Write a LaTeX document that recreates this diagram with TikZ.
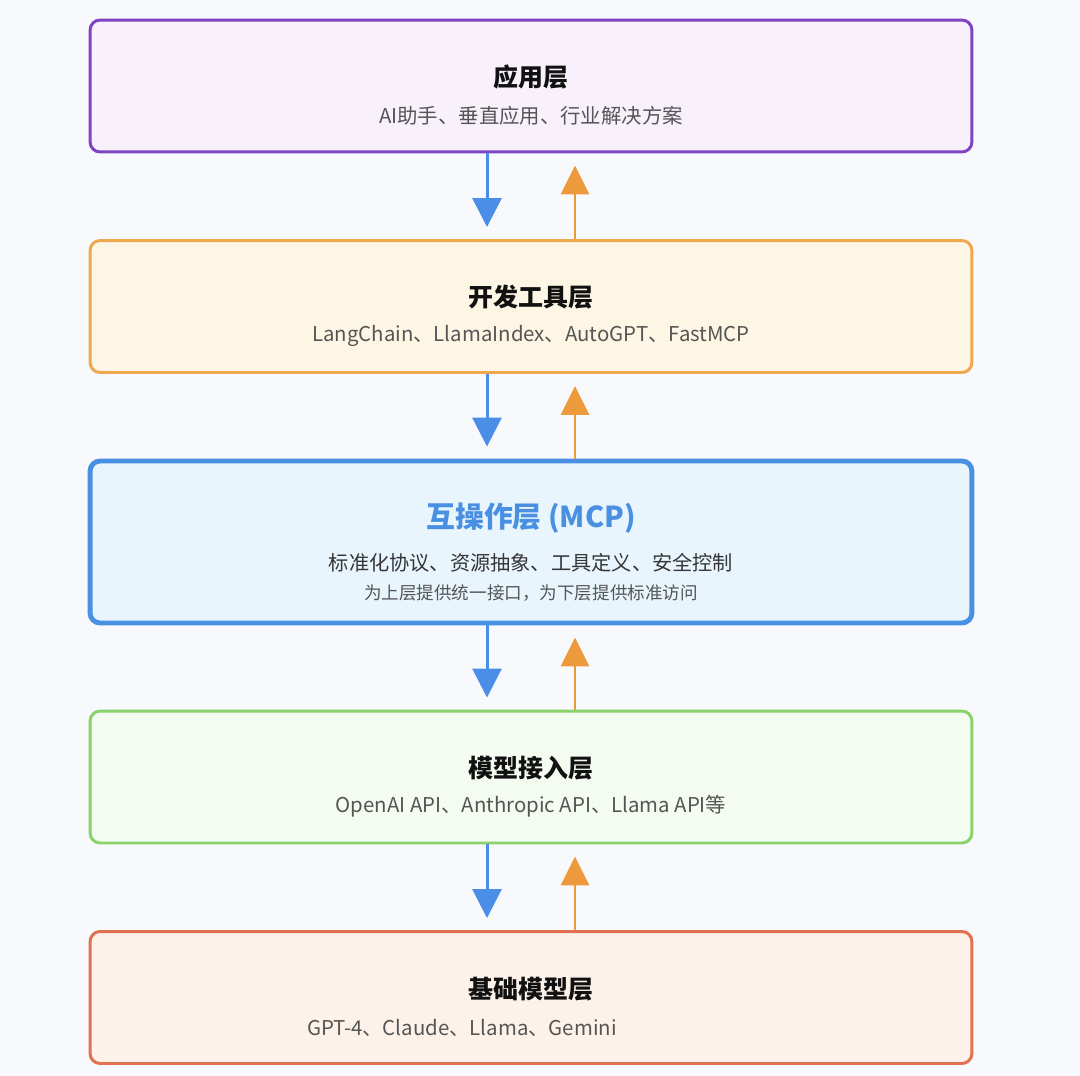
\documentclass[tikz,border=0pt]{standalone}
\usepackage{fontspec}
\setmainfont{Noto Sans CJK SC}
\usetikzlibrary{arrows.meta}
\definecolor{pagebg}{HTML}{F7F9FC}
\definecolor{appline}{HTML}{7E44C2}
\definecolor{appfill}{HTML}{F8F1FC}
\definecolor{devline}{HTML}{F0A84E}
\definecolor{devfill}{HTML}{FEF6E4}
\definecolor{mcpline}{HTML}{4A90E2}
\definecolor{mcpfill}{HTML}{E8F5FD}
\definecolor{accline}{HTML}{8AD26A}
\definecolor{accfill}{HTML}{F4FBF0}
\definecolor{baseline}{HTML}{E2724F}
\definecolor{basefill}{HTML}{FDF2E9}
\definecolor{arrowblue}{HTML}{4A8EE8}
\definecolor{arroworange}{HTML}{EC9A3C}
\definecolor{titlecol}{HTML}{111111}
\definecolor{subcol}{HTML}{555555}
\begin{document}
\begin{tikzpicture}[x=0.02cm,y=-0.02cm,
  layer/.style={draw,rounded corners=0.2cm,line width=1.7pt,minimum width=17.64cm,minimum height=2.64cm,inner sep=0pt},
  title/.style={font=\bfseries\fontsize{14.2}{16}\selectfont,text=titlecol},
  sub/.style={font=\fontsize{11.6}{14}\selectfont,text=subcol},
  down/.style={-{Triangle[width=0.58cm,length=0.58cm]},line width=1.7pt,draw=arrowblue},
  up/.style={-{Triangle[width=0.56cm,length=0.58cm]},line width=1.7pt,draw=arroworange}]
  % page
  \fill[pagebg] (0,0) rectangle (1080,1076);
  \useasboundingbox (0,0) rectangle (1080,1076);
  % layers
  \node[layer,draw=appline,fill=appfill] (app) at (531,86) {};
  \node[layer,draw=devline,fill=devfill] (dev) at (531,306.5) {};
  \node[layer,draw=mcpline,fill=mcpfill,line width=2.8pt,minimum height=3.24cm] (mcp) at (531,542) {};
  \node[layer,draw=accline,fill=accfill] (acc) at (531,777) {};
  \node[layer,draw=baseline,fill=basefill] (base) at (531,997.5) {};
  % texts
  \node[title] (apptitle) at (531,77) {应用层};
  \node[sub] (appsub) at (531,116) {AI助手、垂直应用、行业解决方案};
  \node[title] (devtitle) at (531,297) {开发工具层};
  \node[sub] (devsub) at (531,336) {LangChain、LlamaIndex、AutoGPT、FastMCP};
  \node[title,font=\bfseries\fontsize{16.4}{19}\selectfont,text=mcpline] (mcptitle) at (531,518) {互操作层 (MCP)};
  \node[sub,font=\fontsize{11.5}{14}\selectfont,text=titlecol!85] (mcpsub) at (531,563) {标准化协议、资源抽象、工具定义、安全控制};
  \node[sub,font=\fontsize{10}{12}\selectfont] (mcpnote) at (531,593) {为上层提供统一接口，为下层提供标准访问};
  \node[title] (acctitle) at (531,768) {模型接入层};
  \node[sub] (accsub) at (531,806) {OpenAI API、Anthropic API、Llama API等};
  \node[title] (basetitle) at (531,989) {基础模型层};
  \node[sub,anchor=west] (basesub) at (301,1028) {GPT-4、Claude、Llama、Gemini};
  % arrows
  \draw[down] ([xshift=-0.88cm]app.south) -- ([xshift=-0.88cm,yshift=0.24cm]dev.north);
  \draw[up] ([xshift=0.88cm]dev.north) -- ([xshift=0.88cm,yshift=-0.24cm]app.south);
  \draw[down] ([xshift=-0.88cm]dev.south) -- ([xshift=-0.88cm,yshift=0.24cm]mcp.north);
  \draw[up] ([xshift=0.88cm]mcp.north) -- ([xshift=0.88cm,yshift=-0.24cm]dev.south);
  \draw[down] ([xshift=-0.88cm]mcp.south) -- ([xshift=-0.88cm,yshift=0.24cm]acc.north);
  \draw[up] ([xshift=0.88cm]acc.north) -- ([xshift=0.88cm,yshift=-0.24cm]mcp.south);
  \draw[down] ([xshift=-0.88cm]acc.south) -- ([xshift=-0.88cm,yshift=0.24cm]base.north);
  \draw[up] ([xshift=0.88cm]base.north) -- ([xshift=0.88cm,yshift=-0.24cm]acc.south);
\end{tikzpicture}
\end{document}
